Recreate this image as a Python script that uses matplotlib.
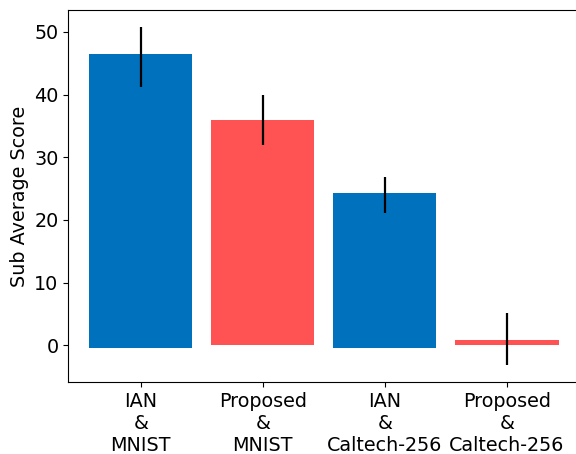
import matplotlib.pyplot as plt
import numpy as np

labels = ['IAN\n&\nMNIST', 'Proposed\n&\nMNIST', 'IAN\n&\nCaltech-256', 'Proposed\n&\nCaltech-256']
tops = [46.4, 36.0, 24.3, 0.9]
bottoms = [-0.5, 0.0, -0.5, 0.0]
err_centers = [46.0, 36.0, 24.0, 0.95]
errors = [4.8, 4.0, 2.9, 4.15]
colors = ['#0072BD', '#FF5252', '#0072BD', '#FF5252']

fig, ax = plt.subplots(figsize=(5.76, 4.54), dpi=100)
x = np.arange(len(labels))
heights = np.array(tops) - np.array(bottoms)
ax.bar(x, heights, bottom=bottoms, width=0.845, color=colors)
ax.errorbar(x, err_centers, yerr=errors, fmt='none', ecolor='black', elinewidth=1.6, capsize=0)

ax.set_xticks(x)
ax.set_xticklabels(labels, fontsize=13.8)
ax.tick_params(axis='y', labelsize=13.8)
ax.set_ylabel('Sub Average Score', fontsize=13.8)
ax.set_yticks([0, 10, 20, 30, 40, 50])
ax.set_xlim(-0.594, 3.575)

plt.subplots_adjust(left=0.1185, right=1.002, top=0.978, bottom=0.158)
plt.savefig('out.png')
